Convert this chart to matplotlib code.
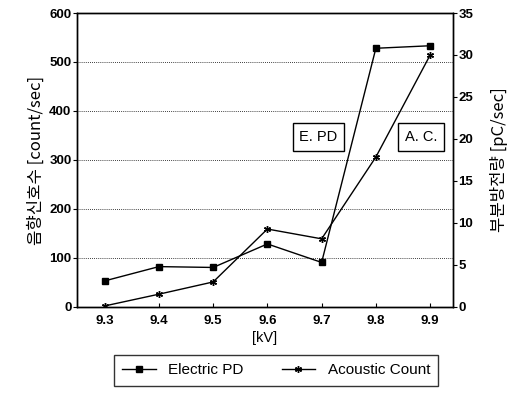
"""
Electric PD vs acoustic count against applied voltage (twin y axes).
"""
import matplotlib
matplotlib.use("Agg")
import matplotlib.pyplot as plt

plt.rcParams["font.family"] = ["Liberation Sans", "Noto Sans CJK KR", "DejaVu Sans"]

# ── Data ──────────────────────────────────────────────────────────────────────
kv = [9.3, 9.4, 9.5, 9.6, 9.7, 9.8, 9.9]
electric_pd = [3.1, 4.8, 4.7, 7.5, 5.3, 30.8, 31.1]        # pC/sec (right axis)
acoustic_count = [2, 26, 51, 159, 139, 306, 514]           # count/sec (left axis)

left_ticks = [0, 100, 200, 300, 400, 500, 600]
right_ticks = [0, 5, 10, 15, 20, 25, 30, 35]

fig = plt.figure(figsize=(5.26, 3.94), dpi=100)
ax = fig.add_axes([0.1464, 0.221, 0.7146, 0.746])
ax2 = ax.twinx()

ax.plot(kv, acoustic_count, color="black", lw=1.0, marker=(6, 2, 0),
        ms=5, mew=1.0, label="Acoustic Count", zorder=3)
ax2.plot(kv, electric_pd, color="black", lw=1.0, marker="s",
         ms=5, label="Electric PD", zorder=3)

ax.set_xlim(9.249, 9.942)
ax.set_ylim(0, 600)
ax2.set_ylim(0, 35)
ax.set_xticks(kv)
ax.set_xticklabels([f"{v:.1f}" for v in kv])
ax.set_yticks(left_ticks)
ax2.set_yticks(right_ticks)

for y in left_ticks[1:-1]:
    ax.axhline(y, color="black", lw=0.6, ls=(0, (1, 1.5)), zorder=1)

for a in (ax, ax2):
    for s in a.spines.values():
        s.set_linewidth(1.0)
ax.tick_params(axis="y", direction="out", length=3, width=0.8, pad=1,
               labelsize=9.5)
ax2.tick_params(axis="y", direction="out", length=3, width=0.8, pad=1,
                labelsize=9.5)
ax.tick_params(axis="x", direction="in", length=3, width=0.8, pad=6,
               labelsize=9.5)
for lab in ax.get_xticklabels() + ax.get_yticklabels() + ax2.get_yticklabels():
    lab.set_fontweight("bold")

ax.set_xlabel("[kV]", fontsize=10.5, labelpad=3)
ax.set_ylabel("음향신호수 [count/sec]", fontsize=12,
              family=["Noto Sans CJK KR"], labelpad=3)
ax2.set_ylabel("부분방전량 [pC/sec]", fontsize=12, rotation=90,
               family=["Noto Sans CJK KR"], labelpad=12)

box = dict(boxstyle="square,pad=0.45", fc="white", ec="black", lw=1.0)
ax.text(9.694, 347, "E. PD", ha="center", va="center", fontsize=10.5, bbox=box)
ax.text(9.883, 347, "A. C.", ha="center", va="center", fontsize=10.5, bbox=box)

h1, l1 = ax2.get_legend_handles_labels()
h2, l2 = ax.get_legend_handles_labels()
leg = fig.legend(h1 + h2, l1 + l2, loc="center", ncol=2,
                 bbox_to_anchor=(0.525, 0.06), fontsize=11, frameon=True,
                 fancybox=False, edgecolor="black", handlelength=2.2,
                 columnspacing=2.5, borderpad=0.55)
leg.get_frame().set_linewidth(1.0)

plt.savefig("out.png", dpi=100)
